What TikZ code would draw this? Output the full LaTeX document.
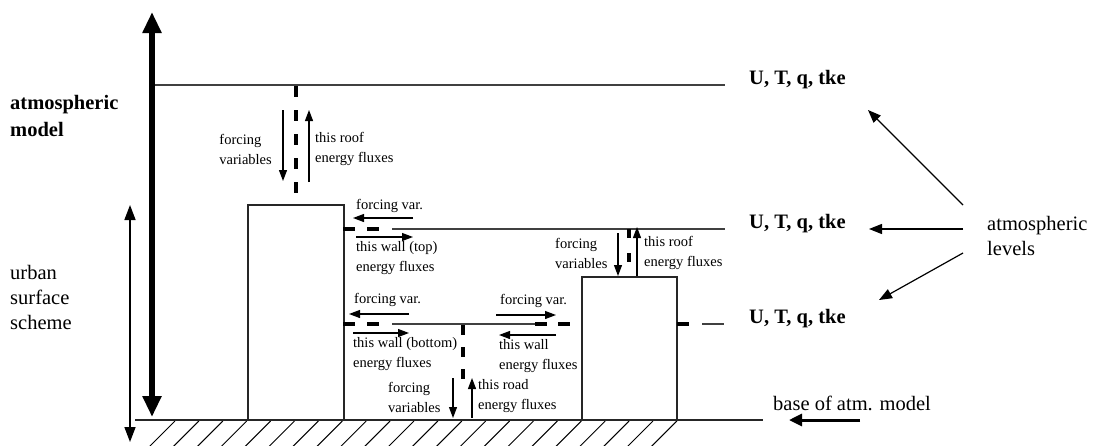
\documentclass[tikz,border=0pt]{standalone}
\usepackage{fontspec}
\setmainfont{Liberation Serif}
\usetikzlibrary{arrows.meta}
\tikzset{
  lvl/.style={line width=1.1pt, draw=black!75},
  bld/.style={line width=1.3pt, draw=black!85},
  exch/.style={line width=4pt},
  flux/.style={line width=1.2pt, -{Triangle[length=11pt,width=8pt]}},
  ptr/.style={line width=1.2pt, -{Triangle[length=13pt,width=10pt]}},
  small/.style={font=\fontsize{14.5pt}{20pt}\selectfont, inner sep=0pt, align=left},
  big/.style={font=\fontsize{20.5pt}{25pt}\selectfont, inner sep=0pt, align=left},
  bigb/.style={font=\fontsize{20.5pt}{27pt}\selectfont\bfseries, inner sep=0pt, align=left},
  var/.style={font=\fontsize{20.5pt}{24pt}\selectfont\bfseries, inner sep=0pt, anchor=west},
}
\begin{document}
\begin{tikzpicture}[x=1pt,y=-1pt]
\useasboundingbox (0,0) rectangle (1095,445);

% ground
\coordinate (g0) at (135,420);
\coordinate (g1) at (763,420);
\draw[bld] (g0) -- (g1);
\begin{scope}
\clip (140,421) rectangle (700,445);
\foreach \k in {0,...,21} {
  \draw[line width=1pt] ({175+23.9*\k},421) -- ({175+23.9*\k-26},447);
}
\end{scope}

% buildings
\draw[bld] (248,420) rectangle (344,205);
\node[coordinate] (b1) at (248,205) {};
\draw[bld] (582,420) rectangle (677,277);
\node[coordinate] (b2) at (582,277) {};

% left arrows
\coordinate (am1) at (152,12);
\coordinate (am2) at (152,417);
\draw[line width=5.5pt, {Triangle[length=21pt,width=18pt]}-{Triangle[length=21pt,width=18pt]}] (am1) -- (am2);
\coordinate (us1) at (130,205);
\coordinate (us2) at (130,442);
\draw[line width=1.6pt, {Triangle[length=15pt,width=11pt]}-{Triangle[length=15pt,width=11pt]}] (us1) -- (us2);

\node[bigb, anchor=west] (atm) at (10,116) {atmospheric\\model};
\node[big, anchor=west] (urb) at (10,297) {urban\\surface\\scheme};

% atmospheric levels
\coordinate (l1a) at (155,85);
\coordinate (l1b) at (725,85);
\draw[lvl] (l1a) -- (l1b);
\node[var] (v1) at (749,80) {U, T, q, tke};

\coordinate (l2a) at (392,229);
\coordinate (l2b) at (725,229);
\draw[lvl] (l2a) -- (l2b);
\draw[exch] (343,229) -- (355,229) (367,229) -- (379,229);
\node[var] (v2) at (749,224) {U, T, q, tke};

\coordinate (l3a) at (392,324);
\coordinate (l3b) at (535,324);
\draw[lvl] (l3a) -- (l3b);
\draw[exch] (343,324) -- (355,324) (367,324) -- (379,324)
  (535,324) -- (547,324) (558,324) -- (570,324) (677,324) -- (689,324);
\coordinate (l3c) at (702,324);
\coordinate (l3d) at (724,324);
\draw[lvl] (l3c) -- (l3d);
\node[var] (v3) at (749,319) {U, T, q, tke};

% roof 1 exchange
\draw[exch, dash pattern=on 11pt off 13pt] (296,86) -- (296,194);
\coordinate (r1a) at (283,110); \coordinate (r1b) at (283,181);
\draw[flux] (r1a) -- (r1b);
\coordinate (r1c) at (309,182); \coordinate (r1d) at (309,110);
\draw[flux] (r1c) -- (r1d);
\node[small, anchor=east, align=left] (r1f) at (272,149) {forcing\\variables};
\node[small, anchor=west] (r1e) at (315,149) {this roof\\energy fluxes};

% wall top
\coordinate (wta) at (413,218); \coordinate (wtb) at (353,218);
\draw[flux] (wta) -- (wtb);
\coordinate (wtc) at (356,237); \coordinate (wtd) at (413,237);
\draw[flux] (wtc) -- (wtd);
\node[small, anchor=west] (wtf) at (356,206) {forcing var.};
\node[small, anchor=west] (wte) at (356,258) {this wall (top)\\energy fluxes};

% wall bottom
\coordinate (wba) at (409,314); \coordinate (wbb) at (349,314);
\draw[flux] (wba) -- (wbb);
\coordinate (wbc) at (353,333); \coordinate (wbd) at (409,333);
\draw[flux] (wbc) -- (wbd);
\node[small, anchor=west] (wbf) at (354,300) {forcing var.};
\node[small, anchor=west] (wbe) at (353,354) {this wall (bottom)\\energy fluxes};

% road
\draw[exch, dash pattern=on 10pt off 12pt] (463,325) -- (463,384);
\coordinate (rda) at (453,378); \coordinate (rdb) at (453,418);
\draw[flux] (rda) -- (rdb);
\coordinate (rdc) at (472,418); \coordinate (rdd) at (472,378);
\draw[flux] (rdc) -- (rdd);
\node[small, anchor=west] (rdf) at (388,397) {forcing\\variables};
\node[small, anchor=west] (rde) at (478,396) {this road\\energy fluxes};

% right wall
\coordinate (wra) at (496,315); \coordinate (wrb) at (556,315);
\draw[flux] (wra) -- (wrb);
\coordinate (wrc) at (556,335); \coordinate (wrd) at (499,335);
\draw[flux] (wrc) -- (wrd);
\node[small, anchor=west] (wrf) at (500,301) {forcing var.};
\node[small, anchor=west] (wre) at (499,356) {this wall\\energy fluxes};

% roof 2
\draw[exch, dash pattern=on 9pt off 15pt] (629,229) -- (629,263);
\coordinate (r2a) at (618,233); \coordinate (r2b) at (618,276);
\draw[flux] (r2a) -- (r2b);
\coordinate (r2c) at (637,276); \coordinate (r2d) at (637,227);
\draw[flux] (r2c) -- (r2d);
\node[small, anchor=west] (r2f) at (555,253) {forcing\\variables};
\node[small, anchor=west] (r2e) at (644,253) {this roof\\energy fluxes};

% atmospheric levels label
\node[big, anchor=west] (al) at (987,236) {atmospheric\\levels};
\coordinate (p1) at (963,205);
\coordinate (q1) at (868,110);
\draw[ptr] (p1) -- (q1);
\coordinate (p2) at (963,229);
\coordinate (q2) at (869,229);
\draw[ptr] (p2) -- (q2);
\coordinate (p3) at (963,253);
\coordinate (q3) at (879,300);
\draw[ptr] (p3) -- (q3);

% base
\node[big, anchor=west] (base) at (773,403) {base of atm. model};
\coordinate (ba) at (860,420); \coordinate (bb) at (789,420);
\draw[line width=3pt, -{Triangle[length=13pt,width=12pt]}] (ba) -- (bb);
\end{tikzpicture}
\end{document}
